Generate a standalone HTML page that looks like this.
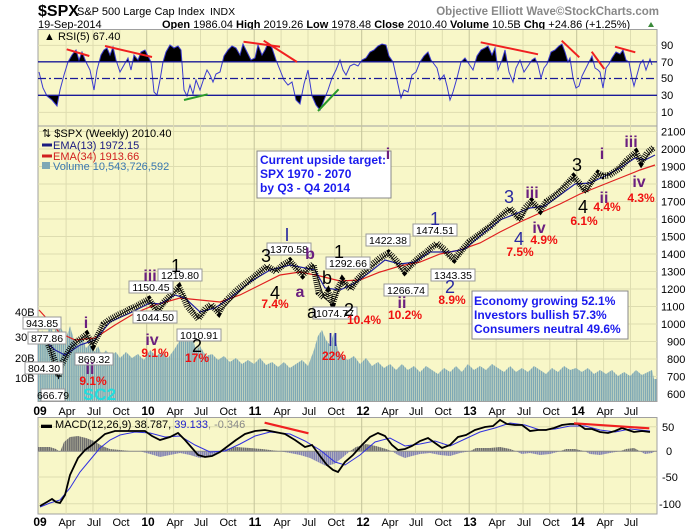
<!DOCTYPE html>
<html><head><meta charset="utf-8"><style>
body{margin:0;background:#fff;}
svg{display:block;font-family:"Liberation Sans",Arial,sans-serif;}
.ax{font-size:11px;fill:#000;}
.xl{font-size:11px;fill:#000;text-anchor:middle;}
.xy{font-size:12px;font-weight:bold;fill:#000;text-anchor:middle;}
.lb rect{fill:#fff;stroke:#999;stroke-width:1;}
.lb text{font-size:10.5px;fill:#000;text-anchor:middle;}
.w{font-size:18px;text-anchor:middle;}
.p{font-size:16px;font-weight:bold;fill:#6b1f7f;text-anchor:middle;}
.r{font-size:12px;font-weight:bold;fill:#f01010;text-anchor:middle;}
.bl{font-size:18px;fill:#2a2aa0;text-anchor:middle;}
.bx{font-size:12px;font-weight:bold;fill:#1a1aee;}
</style></head><body>
<svg width="700" height="530" viewBox="0 0 700 530">
<defs>
<pattern id="vs" x="38" y="0" width="2.07" height="10" patternUnits="userSpaceOnUse"><rect width="1.6" height="10" fill="#7ea8b5"/></pattern>
<pattern id="hg" x="38" y="0" width="2.07" height="10" patternUnits="userSpaceOnUse"><rect width="1.7" height="10" fill="#6e6e6e"/></pattern>
<pattern id="hb" x="38" y="0" width="2.07" height="10" patternUnits="userSpaceOnUse"><rect width="1.7" height="10" fill="#8484b4"/></pattern>
<clipPath id="ca"><rect x="38" y="29" width="619" height="32.8"/></clipPath>
<clipPath id="cb"><rect x="38" y="95.3" width="619" height="31"/></clipPath>
<clipPath id="cp"><rect x="38" y="126" width="619" height="275"/></clipPath>
</defs>
<rect width="700" height="530" fill="#fff"/>
<!-- header -->
<text x="38" y="16" font-size="16" font-weight="bold">$SPX</text>
<text x="77" y="15" font-size="11">S&amp;P 500 Large Cap Index</text>
<text x="210" y="15" font-size="10.5">INDX</text>
<text x="659" y="15" font-size="11.5" font-weight="bold" fill="#888" text-anchor="end">Objective Elliott Wave©StockCharts.com</text>
<text x="38" y="28" font-size="11">19-Sep-2014</text>
<text x="162" y="28" font-size="11"><tspan font-weight="bold">Open</tspan> 1986.04 <tspan font-weight="bold">High</tspan> 2019.26 <tspan font-weight="bold">Low</tspan> 1978.48 <tspan font-weight="bold">Close</tspan> 2010.40 <tspan font-weight="bold">Volume</tspan> 10.5B <tspan font-weight="bold">Chg</tspan> +24.86 (+1.25%)</text>
<polygon points="648,27 651,22 654,27" fill="#3a8a3a"/>
<!-- panels -->
<rect x="38" y="29.5" width="619" height="96.5" fill="#f8f7c8" stroke="#a0a0a0"/>
<rect x="38" y="126" width="619" height="275.5" fill="#f8f7c8" stroke="#a0a0a0"/>
<rect x="38" y="417.5" width="619" height="96.5" fill="#f8f7c8" stroke="#a0a0a0"/>
<!-- grid -->
<g stroke="#deddb0">
<path d="M66.1,30V401M93,30V401M119.8,30V401M173.6,30V401M200.5,30V401M227.3,30V401M281.1,30V401M308,30V401M334.8,30V401M388.6,30V401M415.5,30V401M442.3,30V401M496.1,30V401M523,30V401M549.8,30V401M603.6,30V401M630.5,30V401"/>
<path d="M66.1,418V514M93,418V514M119.8,418V514M173.6,418V514M200.5,418V514M227.3,418V514M281.1,418V514M308,418V514M334.8,418V514M388.6,418V514M415.5,418V514M442.3,418V514M496.1,418V514M523,418V514M549.8,418V514M603.6,418V514M630.5,418V514"/>
<path d="M38,131.5H657M38,149H657M38,166.5H657M38,184H657M38,201.5H657M38,219H657M38,236.5H657M38,254H657M38,271.5H657M38,289H657M38,306.5H657M38,324H657M38,341.5H657M38,359H657M38,376.5H657M38,45.4H657M38,112.4H657M38,426.7H657M38,477H657M38,503.7H657"/>
</g>
<g stroke="#c4c49a">
<path d="M146.7,30V401M254.2,30V401M361.7,30V401M469.2,30V401M576.7,30V401M146.7,418V514M254.2,418V514M361.7,418V514M469.2,418V514M576.7,418V514"/>
</g>
<!-- volume -->
<polygon fill="url(#vs)" points="38,401 38,345 42,330 46,340 50,322 54,335 58,318 62,330 66,338 70,326 74,340 78,346 82,336 86,348 90,344 94,352 98,346 102,356 106,350 110,356 116,352 120,358 126,352 132,358 138,354 144,360 150,350 156,356 162,352 168,358 174,350 180,340 184,330 188,342 192,336 196,350 200,346 206,356 212,354 218,360 224,356 230,362 236,358 242,364 248,360 254,364 260,358 266,365 272,362 278,367 284,362 290,368 296,364 302,360 308,366 314,350 318,336 322,330 326,340 330,345 334,332 338,350 342,356 348,360 354,356 360,364 366,358 372,366 378,362 384,368 390,364 396,370 402,364 408,370 414,366 420,372 426,366 432,370 438,374 444,368 450,372 456,366 462,372 468,364 474,370 480,366 486,370 492,364 498,368 504,372 510,366 516,372 522,368 528,372 534,366 540,370 546,374 552,368 558,372 564,366 570,370 576,368 582,372 588,368 594,374 600,370 606,374 612,370 618,376 624,372 630,376 636,370 642,375 648,372 652,370 654,379 657,379 657,401"/>
<!-- EMAs -->
<g fill="none" stroke-width="1.2" clip-path="url(#cp)">
<polyline stroke="#e02020" points="39,310 50,322 60,333 75,340 95,338 115,325 135,313 155,305 180,298 200,300 220,302 240,295 260,285 280,275 300,272 320,276 340,281 360,280 380,272 400,266 420,262 440,254 460,250 480,243 500,232 520,222 540,213 560,204 580,194 600,186 620,178 640,170 655,165"/>
<polyline stroke="#2020a0" points="39,335 55,350 65,355 80,345 95,340 110,322 130,313 150,303 160,304 175,295 185,298 200,312 215,308 230,298 250,282 270,270 290,265 305,268 315,270 325,288 340,290 355,283 370,272 385,260 400,264 415,262 430,252 450,252 465,249 480,236 500,220 515,214 530,208 545,206 560,195 575,184 590,183 605,176 620,168 635,158 645,160 655,155"/>
</g>
<!-- price bars -->
<g clip-path="url(#cp)" fill="none" stroke="#000">
<polyline stroke-width="6.5" stroke-dasharray="0.9 1.17" points="39.2,341 44.6,336 50,348.5 52.1,353.8 55,362 58.6,376 60.7,366 66.1,355.5 71.5,346.8 76.8,341.5 82.2,338 86.5,334.5 92.9,345 98.3,334.5 103.7,324 109,320 114.4,317 120,314 125.2,311.8 130,309 135.9,306.5 142,303 148.8,299.5 157.4,311.8 163,303 168.2,297.8 174,292 178.9,287.3 183,296 187.5,306.5 193,313 198.3,318.8 205.8,308.3 211.2,304.8 218.7,312.6 223,305 227.3,299.5 233,294 238.1,289 246,283 254.2,276.8 261,271 267.1,266.3 275.7,271.5 283,265 289.7,261 296,268 302.6,275 308,269 313.3,264.5 318.7,292.5 324.1,297.8 328,292 332.7,303 337,290 342.3,280.3 346,285 350.9,289 356,281 361.7,275 367,270 372.4,264.5 380,258 388.5,253.1 394,258 399.3,264.5 404.7,271.5 410,266 415.4,261 421,256 426.2,252.3 431,248 436.9,243.5 445,250 450,256 454.1,259.3 462,250 469.2,241.8 480,234 490.7,226 500,217 510,208.5 515,214 519.7,219 525,208 531.5,201.5 536,206 540.2,210.3 546.6,201.5 553,197 560.6,191 567,184 573.5,177 580,184 585.3,191 591,182 598.2,173.5 603,176 609,175.3 614,172 619.7,168.3 627,160 635.8,152.5 641.2,162.1 647,153 654.1,147.3"/>
<polyline stroke-width="0.8" points="39.2,341 44.6,336 50,348.5 58.6,379 60.7,366 71.5,346.8 86.5,334.5 92.9,345 103.7,324 125.2,311.8 148.8,299.5 157.4,311.8 178.9,287.3 198.3,318.8 211.2,304.8 218.7,312.6 254.2,276.8 267.1,266.3 275.7,271.5 289.7,261 302.6,275 313.3,264.5 324.1,297.8 332.7,305 342.3,280.3 350.9,289 361.7,275 388.5,253.1 404.7,274 415.4,261 436.9,243.5 454.1,262 469.2,241.8 510,208.5 519.7,221 531.5,201.5 540.2,210.3 546.6,201.5 573.5,177 585.3,193 598.2,173.5 609,175.3 635.8,152.5 641.2,164 654.1,147.3"/>
</g>
<!-- RSI -->
<g>
<polygon clip-path="url(#ca)" fill="#000" points="39,61.8 39,72 43,88 47,96 52,100 57,106 60,90 64,75 68,62 72,55 76,50 79,60 82,52 86,62 90,70 94,90 97,70 101,55 104,50 107,48 110,55 113,47 116,60 120,72 124,65 128,58 131,70 134,55 138,60 141,52 145,50 148,56 151,62 154,92 157,95 160,80 163,62 166,52 170,45 174,48 178,46 181,50 184,90 187,96 190,85 193,94 196,80 200,90 204,78 207,70 210,75 213,82 216,74 220,72 224,56 228,50 232,46 236,48 240,55 243,44 247,52 251,60 255,58 258,45 262,55 265,50 268,43 272,48 276,60 280,70 284,80 288,85 292,82 296,100 300,104 304,84 308,70 312,96 316,105 320,110 324,100 328,90 332,78 336,70 340,60 343,70 346,75 350,66 354,64 358,66 362,60 366,58 370,52 374,50 378,46 382,44 386,45 389,56 393,62 397,80 401,98 404,90 408,92 412,75 416,72 420,62 424,56 428,52 431,60 434,64 437,68 440,80 444,75 447,86 450,100 453,92 457,78 461,62 465,58 469,64 473,70 477,56 481,50 485,48 488,46 492,55 495,48 498,70 502,60 505,50 509,72 513,82 516,68 520,60 524,72 528,66 532,60 535,58 538,65 541,78 544,68 547,64 551,52 555,50 559,46 562,44 565,52 568,62 570,58 573,78 576,88 579,86 582,76 585,70 588,64 592,56 595,68 598,70 600,72 603,88 606,68 609,64 612,58 616,52 620,54 623,50 626,60 629,62 632,78 634,86 637,75 640,64 643,60 646,70 650,59 652,65 652,61.8"/>
<polygon clip-path="url(#cb)" fill="#000" points="39,95.3 39,72 43,88 47,96 52,100 57,106 60,90 64,75 68,62 280,70 284,80 288,85 292,82 296,100 300,104 304,84 308,70 312,96 316,105 320,110 324,100 328,90 332,78 336,70 652,65 652,95.3"/>
<polyline fill="none" stroke="#3a3ad0" stroke-width="1" points="39,72 43,88 47,96 52,100 57,106 60,90 64,75 68,62 72,55 76,50 79,60 82,52 86,62 90,70 94,90 97,70 101,55 104,50 107,48 110,55 113,47 116,60 120,72 124,65 128,58 131,70 134,55 138,60 141,52 145,50 148,56 151,62 154,92 157,95 160,80 163,62 166,52 170,45 174,48 178,46 181,50 184,90 187,96 190,85 193,94 196,80 200,90 204,78 207,70 210,75 213,82 216,74 220,72 224,56 228,50 232,46 236,48 240,55 243,44 247,52 251,60 255,58 258,45 262,55 265,50 268,43 272,48 276,60 280,70 284,80 288,85 292,82 296,100 300,104 304,84 308,70 312,96 316,105 320,110 324,100 328,90 332,78 336,70 340,60 343,70 346,75 350,66 354,64 358,66 362,60 366,58 370,52 374,50 378,46 382,44 386,45 389,56 393,62 397,80 401,98 404,90 408,92 412,75 416,72 420,62 424,56 428,52 431,60 434,64 437,68 440,80 444,75 447,86 450,100 453,92 457,78 461,62 465,58 469,64 473,70 477,56 481,50 485,48 488,46 492,55 495,48 498,70 502,60 505,50 509,72 513,82 516,68 520,60 524,72 528,66 532,60 535,58 538,65 541,78 544,68 547,64 551,52 555,50 559,46 562,44 565,52 568,62 570,58 573,78 576,88 579,86 582,76 585,70 588,64 592,56 595,68 598,70 600,72 603,88 606,68 609,64 612,58 616,52 620,54 623,50 626,60 629,62 632,78 634,86 637,75 640,64 643,60 646,70 650,59 652,65"/>
</g>
<g stroke="#1a1a99" stroke-width="1.3">
<line x1="38" y1="61.8" x2="657" y2="61.8"/><line x1="38" y1="95.3" x2="657" y2="95.3"/>
<line x1="38" y1="78.5" x2="657" y2="78.5" stroke-dasharray="8,3,2,3"/></g>
<g class="ax"><text x="661" y="49">90</text><text x="661" y="66">70</text><text x="661" y="82">50</text><text x="661" y="99">30</text><text x="661" y="116">10</text></g>
<text x="44" y="40" font-size="11">▲ RSI(5) 67.40</text>
<g stroke-width="2" stroke="#f02020">
<line x1="66.7" y1="49.3" x2="89.3" y2="56"/><line x1="105" y1="46" x2="152" y2="57"/>
<line x1="243.5" y1="41.7" x2="280" y2="46.7"/><line x1="263.7" y1="40.7" x2="297" y2="62"/>
<line x1="480.7" y1="42.3" x2="538" y2="54.3"/><line x1="561.7" y1="40.7" x2="579.3" y2="57.3"/>
<line x1="591.7" y1="51.7" x2="604.3" y2="69"/><line x1="615" y1="46.7" x2="635.3" y2="52.3"/></g>
<g stroke-width="2" stroke="#2a9a2a">
<line x1="184" y1="100" x2="207.6" y2="94.3"/><line x1="318" y1="111" x2="338.6" y2="89.3"/></g>
<!-- price axis -->
<g class="ax">
<text x="661" y="135.5">2100</text><text x="661" y="153">2000</text><text x="661" y="170.5">1900</text><text x="661" y="188">1800</text><text x="661" y="205.5">1700</text><text x="661" y="223">1600</text><text x="661" y="240.5">1500</text><text x="661" y="258">1400</text><text x="661" y="275.5">1300</text><text x="661" y="293">1200</text><text x="661" y="310.5">1100</text><text x="661" y="328">1000</text><text x="667" y="345.5">900</text><text x="667" y="363">800</text><text x="667" y="380.5">700</text><text x="667" y="398">600</text>
<text x="15" y="316">40B</text><text x="15" y="341">30B</text><text x="15" y="362">20B</text><text x="15" y="382">10B</text>
</g>
<!-- MACD -->
<polygon fill="url(#hg)" points="38,451.3 38,447 50,447 56,449 60,452 64,442 70,437 78,436 86,438 94,441 102,446 110,449 120,450 130,451 140,451.3 220,451.3 226,449 236,447 250,448 262,449 270,450 280,451.3 350,451.3 356,447 366,444 376,446 386,449 392,451.3 470,451.3 476,448 490,448 500,447 510,449 516,451.3 560,451.3 566,449 575,449 585,451.3 620,451.3 626,449 634,448 640,451.3"/>
<polygon fill="url(#hb)" points="140,451.3 150,454 160,457 170,455 180,453 190,455 200,458 210,456 220,451.3 280,451.3 290,453 300,455 310,458 318,462 326,466 334,464 342,458 350,451.3 392,451.3 398,455 405,458 412,456 420,454 430,453 440,455 450,456 460,453 470,451.3 516,451.3 522,454 530,453 540,455 550,454 560,451.3 585,451.3 590,454 600,455 610,453 620,451.3 640,451.3 645,454 652,453 655,451.3"/>
<line x1="38" x2="657" y1="451.3" y2="451.3" stroke="#888"/>
<polyline fill="none" stroke="#3030e0" stroke-width="1" points="40,507 50,503 60,500 70,488 80,472 90,460 100,448 110,440 120,435 135,432 150,433 165,437 180,436 195,445 210,452 225,451 240,444 255,436 270,432 290,434 305,441 320,450 335,462 345,465 360,455 375,442 390,438 405,446 420,444 435,441 450,446 465,439 480,432 495,428 510,423 525,425 540,430 555,429 570,426 585,426 600,430 615,432 630,429 650,431"/>
<polyline fill="none" stroke="#000" stroke-width="1.8" points="40,506 47,502 52,499 56,502 60,503 65,495 70,475 78,458 85,450 92,445 98,440 105,434 115,431 125,431 135,431 145,431 152,436 160,440 170,437 178,433 185,440 192,448 198,455 205,457 212,456 220,452 228,446 236,440 245,434 255,431 265,430 275,432 285,434 295,440 305,447 312,445 320,456 327,465 333,470 338,472 345,462 353,455 362,445 370,437 378,433 385,436 392,445 398,450 405,449 412,446 420,441 428,438 435,443 442,448 450,445 458,437 466,435 475,430 485,427 493,426 500,420 507,424 515,425 522,425 530,431 538,430 546,430 554,428 562,425 570,424 578,424 585,429 592,429 600,432 608,433 615,431 622,428 628,430 634,432 642,431 650,432"/>
<g class="ax"><text x="662" y="431">50</text><text x="666" y="455">0</text><text x="662" y="481">-50</text><text x="659" y="508">-100</text></g>
<text x="41" y="428" font-size="11"><tspan font-weight="bold">▬</tspan> MACD(12,26,9) 38.787, <tspan fill="#2020cc">39.133</tspan><tspan fill="#888">, -0.346</tspan></text>
<g stroke-width="2.2" stroke="#f02020"><line x1="264.6" y1="422.7" x2="308.5" y2="433.3"/><line x1="574" y1="423.3" x2="649.3" y2="428.3"/></g>
<!-- x labels -->
<g>
<text class="xy" x="40" y="415">09</text><text class="xl" x="67" y="415">Apr</text><text class="xl" x="94" y="415">Jul</text><text class="xl" x="121" y="415">Oct</text>
<text class="xy" x="148" y="415">10</text><text class="xl" x="175" y="415">Apr</text><text class="xl" x="201" y="415">Jul</text><text class="xl" x="228" y="415">Oct</text>
<text class="xy" x="255" y="415">11</text><text class="xl" x="282" y="415">Apr</text><text class="xl" x="309" y="415">Jul</text><text class="xl" x="336" y="415">Oct</text>
<text class="xy" x="363" y="415">12</text><text class="xl" x="390" y="415">Apr</text><text class="xl" x="416" y="415">Jul</text><text class="xl" x="443" y="415">Oct</text>
<text class="xy" x="470" y="415">13</text><text class="xl" x="497" y="415">Apr</text><text class="xl" x="524" y="415">Jul</text><text class="xl" x="551" y="415">Oct</text>
<text class="xy" x="578" y="415">14</text><text class="xl" x="605" y="415">Apr</text><text class="xl" x="631" y="415">Jul</text>
<text class="xy" x="40" y="526">09</text><text class="xl" x="67" y="526">Apr</text><text class="xl" x="94" y="526">Jul</text><text class="xl" x="121" y="526">Oct</text>
<text class="xy" x="148" y="526">10</text><text class="xl" x="175" y="526">Apr</text><text class="xl" x="201" y="526">Jul</text><text class="xl" x="228" y="526">Oct</text>
<text class="xy" x="255" y="526">11</text><text class="xl" x="282" y="526">Apr</text><text class="xl" x="309" y="526">Jul</text><text class="xl" x="336" y="526">Oct</text>
<text class="xy" x="363" y="526">12</text><text class="xl" x="390" y="526">Apr</text><text class="xl" x="416" y="526">Jul</text><text class="xl" x="443" y="526">Oct</text>
<text class="xy" x="470" y="526">13</text><text class="xl" x="497" y="526">Apr</text><text class="xl" x="524" y="526">Jul</text><text class="xl" x="551" y="526">Oct</text>
<text class="xy" x="578" y="526">14</text><text class="xl" x="605" y="526">Apr</text><text class="xl" x="631" y="526">Jul</text>
</g>
<!-- legend -->
<text x="42" y="137" font-size="11">⇅ $SPX (Weekly) 2010.40</text>
<line x1="42" y1="145" x2="52" y2="145" stroke="#1a1a80" stroke-width="3"/><text x="53" y="149" font-size="11" fill="#1a1a80">EMA(13) 1972.15</text>
<line x1="42" y1="156" x2="52" y2="156" stroke="#d02020" stroke-width="3"/><text x="53" y="160" font-size="11" fill="#d02020">EMA(34) 1913.66</text>
<rect x="42" y="162" width="8" height="7" fill="#7ea8b5"/><text x="53" y="170" font-size="11" fill="#3a78b0">Volume 10,543,726,592</text>
<!-- boxes -->
<rect x="257" y="151" width="134" height="47" fill="#fff" stroke="#888"/>
<text class="bx" x="260" y="164">Current upside target:</text>
<text class="bx" x="260" y="178">SPX 1970 - 2070</text>
<text class="bx" x="260" y="192">by Q3 - Q4 2014</text>
<rect x="472" y="291" width="156" height="48" fill="#fff" stroke="#888"/>
<text class="bx" x="474" y="305" font-size="11.5">Economy growing 52.1%</text>
<text class="bx" x="474" y="319" font-size="11.5">Investors bullish 57.3%</text>
<text class="bx" x="474" y="333" font-size="11.5">Consumers neutral 49.6%</text>
<!-- price labels -->
<g class="lb">
<rect x="267" y="243" width="44" height="12"/><text x="289" y="253">1370.58</text>
<rect x="326" y="257" width="44" height="12"/><text x="348" y="267">1292.66</text>
<rect x="158" y="269" width="44" height="12"/><text x="180" y="279">1219.80</text>
<rect x="129" y="281" width="44" height="12"/><text x="151" y="291">1150.45</text>
<rect x="133" y="311" width="44" height="12"/><text x="155" y="321">1044.50</text>
<rect x="177" y="329" width="44" height="12"/><text x="199" y="339">1010.91</text>
<rect x="313" y="307" width="44" height="12"/><text x="335" y="317">1074.77</text>
<rect x="23" y="317" width="38" height="12"/><text x="42" y="327">943.85</text>
<rect x="28" y="332" width="38" height="12"/><text x="47" y="342">877.86</text>
<rect x="75" y="353" width="38" height="12"/><text x="94" y="363">869.32</text>
<rect x="25" y="362" width="38" height="12"/><text x="44" y="372">804.30</text>
<rect x="41" y="389" width="24" height="12"/><text x="53" y="399" font-size="9.5">666.79</text>
<rect x="366" y="234" width="44" height="12"/><text x="388" y="244">1422.38</text>
<rect x="413" y="224" width="44" height="12"/><text x="435" y="234">1474.51</text>
<rect x="384" y="284" width="44" height="12"/><text x="406" y="294">1266.74</text>
<rect x="431" y="269" width="44" height="12"/><text x="453" y="279">1343.35</text>
</g>
<!-- wave labels -->
<text class="p" x="86" y="328">i</text><text class="p" x="90" y="374">ii</text><text class="r" x="93" y="385">9.1%</text>
<text class="p" x="150" y="281">iii</text><text class="p" x="152" y="345">iv</text><text class="r" x="155" y="357">9.1%</text>
<text class="w" x="176" y="272">1</text><text class="w" x="197" y="352">2</text><text class="r" x="197" y="362">17%</text>
<text class="w" x="266" y="262">3</text><text class="bl" x="287" y="241">I</text><text class="p" x="310" y="259">b</text>
<text class="w" x="275" y="299">4</text><text class="r" x="275" y="308">7.4%</text>
<text class="p" x="300" y="297">a</text><text class="w" x="312" y="318">a</text><text class="w" x="327" y="284">b</text>
<text class="w" x="339" y="258">1</text><text class="bl" x="333" y="346">II</text><text class="r" x="334" y="360">22%</text>
<text class="w" x="349" y="316">2</text><text class="r" x="364" y="324">10.4%</text>
<text class="p" x="388" y="159">i</text><text class="bl" x="435" y="225">1</text>
<text class="p" x="402" y="308">ii</text><text class="r" x="405" y="319">10.2%</text>
<text class="bl" x="450" y="293">2</text><text class="r" x="452" y="304">8.9%</text>
<text class="bl" x="509" y="203">3</text><text class="p" x="532" y="198">iii</text>
<text class="bl" x="519" y="245">4</text><text class="p" x="539" y="233">iv</text>
<text class="r" x="520" y="256">7.5%</text><text class="r" x="544" y="244">4.9%</text>
<text class="w" x="577" y="171">3</text><text class="p" x="602" y="159">i</text>
<text class="w" x="583" y="213">4</text><text class="r" x="584" y="225">6.1%</text>
<text class="p" x="604" y="203">ii</text><text class="r" x="607" y="211">4.4%</text>
<text class="p" x="631" y="147">iii</text><text class="p" x="639" y="187">iv</text><text class="r" x="641" y="202">4.3%</text>
<text x="83" y="400" font-size="17" font-weight="bold" fill="#22dddd">SC2</text>
</svg>
</body></html>
